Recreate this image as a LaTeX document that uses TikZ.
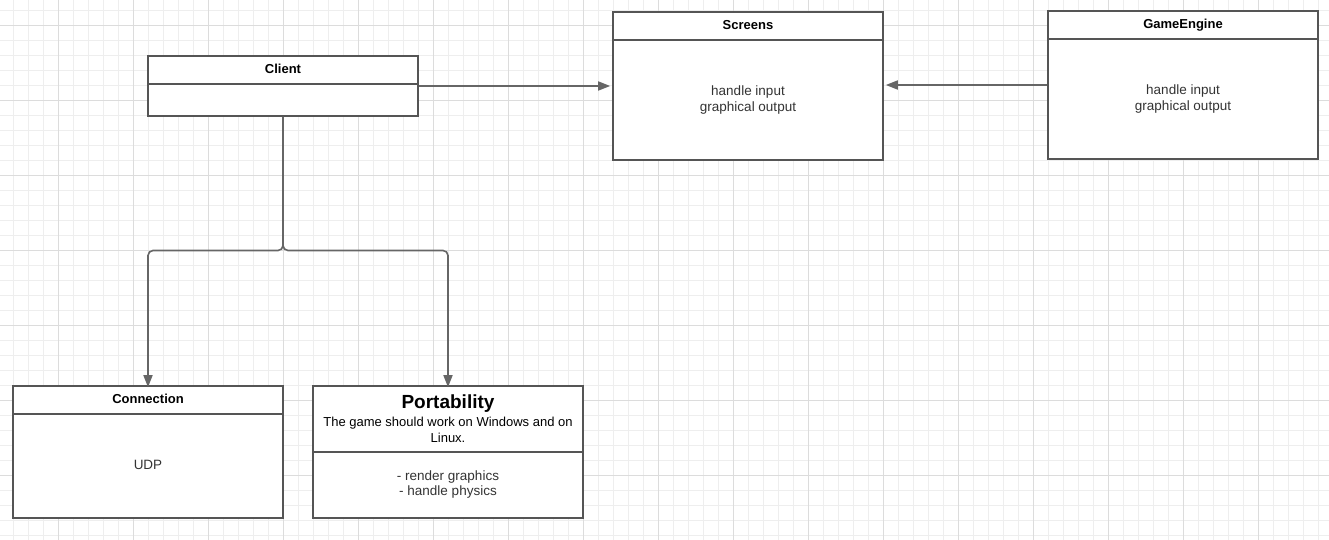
\documentclass[tikz,border=0pt]{standalone}
\usepackage{fontspec}
\setmainfont{Liberation Sans}
\usetikzlibrary{arrows.meta}
\definecolor{gridminor}{HTML}{EEEEEE}
\definecolor{gridmajor}{HTML}{DCDCDC}
\definecolor{boxline}{HTML}{555555}
\definecolor{arrowline}{HTML}{666666}
\definecolor{bodytext}{HTML}{333333}
\tikzset{
  umlbox/.style={draw=boxline, line width=1.6pt, fill=white, rectangle, inner sep=0pt},
  headtext/.style={font=\fontsize{13}{15}\selectfont\bfseries, text=black, inner sep=0pt, anchor=base},
  bodytxt/.style={font=\fontsize{13.5}{16.5}\selectfont, text=bodytext, inner sep=0pt, anchor=base},
  desctxt/.style={font=\fontsize{13}{16}\selectfont, text=black, inner sep=0pt, anchor=base},
  divider/.style={draw=boxline, line width=1.4pt},
  conn/.style={draw=arrowline, line width=1.6pt, -{Triangle[length=12pt,width=9pt]}},
}
\begin{document}
\begin{tikzpicture}[x=1pt,y=-1pt]
\useasboundingbox (0,0) rectangle (1329,540);
\fill[white] (0,0) rectangle (1329,540);
% grid
\foreach \i in {0,...,88} {\draw[gridminor, line width=0.8pt] ({13.5+15*\i},0) -- ({13.5+15*\i},540);}
\foreach \i in {-1,...,36} {\draw[gridminor, line width=0.8pt] (0,{10.5+15*\i}) -- (1329,{10.5+15*\i});}
\foreach \i in {0,...,17} {\draw[gridmajor, line width=0.9pt] ({58.5+75*\i},0) -- ({58.5+75*\i},540);}
\foreach \i in {0,...,7} {\draw[gridmajor, line width=0.9pt] (0,{25.5+75*\i}) -- (1329,{25.5+75*\i});}

% boxes
\node[umlbox, minimum width=270pt, minimum height=60pt] (client) at (283,86) {};
\node[umlbox, minimum width=270pt, minimum height=148pt] (screens) at (748,86) {};
\node[umlbox, minimum width=270pt, minimum height=148pt] (engine) at (1183,85) {};
\node[umlbox, minimum width=270pt, minimum height=132pt] (connection) at (148,452) {};
\node[umlbox, minimum width=270pt, minimum height=132pt] (portability) at (448,452) {};

% dividers
\draw[divider] (client.west |- 0,84) -- (client.east |- 0,84);
\draw[divider] (screens.west |- 0,40) -- (screens.east |- 0,40);
\draw[divider] (engine.west |- 0,39) -- (engine.east |- 0,39);
\draw[divider] (connection.west |- 0,414) -- (connection.east |- 0,414);
\draw[divider] (portability.west |- 0,452) -- (portability.east |- 0,452);

% texts
\node[headtext] (clientT) at (283,73.3) {Client};
\node[headtext] (screensT) at (748,29.3) {Screens};
\node[headtext] (engineT) at (1183,29) {GameEngine};
\node[headtext] (connectionT) at (148,403.3) {Connection};
\node[bodytxt] (screensB1) at (748,95.7) {handle input};
\node[bodytxt] (screensB2) at (748,111.7) {graphical output};
\node[bodytxt] (engineB1) at (1183,94.3) {handle input};
\node[bodytxt] (engineB2) at (1183,110.3) {graphical output};
\node[bodytxt] (connectionB) at (148,469.3) {UDP};
\node[font=\fontsize{19}{22}\selectfont\bfseries, inner sep=0pt, anchor=base] (portT) at (448,408.3) {Portability};
\node[desctxt] (portD1) at (448,426.5) {The game should work on Windows and on};
\node[desctxt] (portD2) at (448,442) {Linux.};
\node[bodytxt] (portB1) at (448,480) {- render graphics};
\node[bodytxt] (portB2) at (448,495.7) {- handle physics};

% connectors
\coordinate (j) at (283,250.5);
\draw[conn] (client.east) -- ([xshift=-2pt]screens.west);
\draw[conn] (engine.west) -- ([xshift=2pt]engine.west -| screens.east);
\draw[conn, rounded corners=5pt] (client.south) -- (j) -| ([yshift=-2pt]connection.north);
\draw[conn, rounded corners=5pt] (client.south) -- (j) -| ([yshift=-2pt]portability.north);
\end{tikzpicture}
\end{document}
